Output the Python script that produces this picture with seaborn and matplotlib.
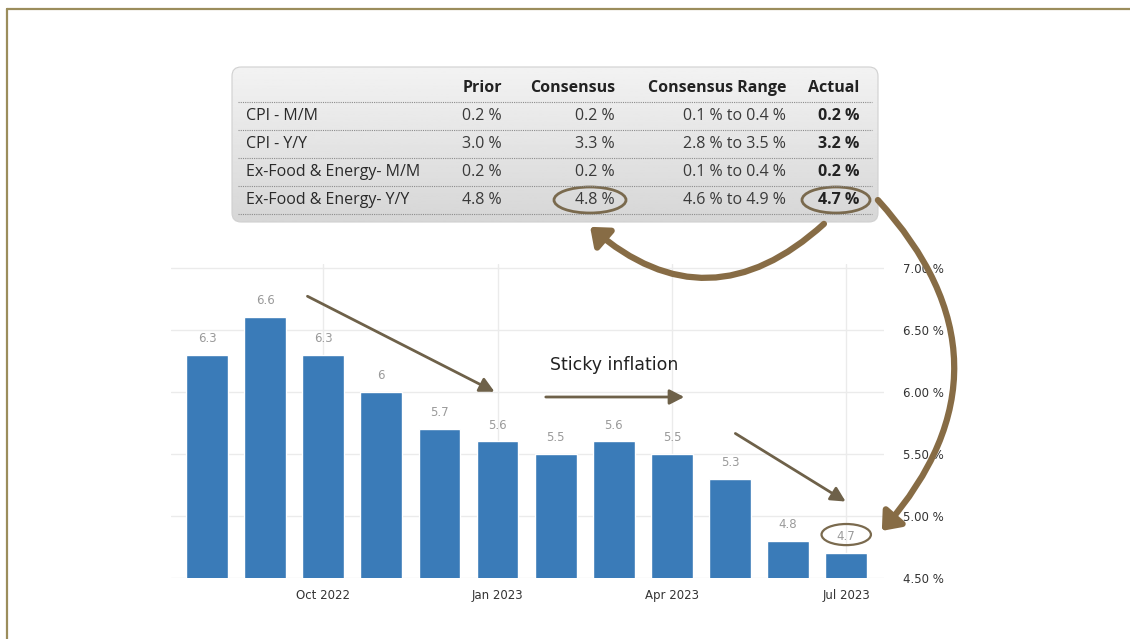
import numpy as np
import pandas as pd
import seaborn as sns
import matplotlib.pyplot as plt
from matplotlib.patches import FancyBboxPatch, FancyArrowPatch, Ellipse

# core CPI y/y, Aug 2022 - Jul 2023
months = ['Aug 2022', 'Sep 2022', 'Oct 2022', 'Nov 2022', 'Dec 2022', 'Jan 2023',
          'Feb 2023', 'Mar 2023', 'Apr 2023', 'May 2023', 'Jun 2023', 'Jul 2023']
core_cpi = [6.3, 6.6, 6.3, 6.0, 5.7, 5.6, 5.5, 5.6, 5.5, 5.3, 4.8, 4.7]
bar_labels = ['6.3', '6.6', '6.3', '6', '5.7', '5.6', '5.5', '5.6', '5.5', '5.3', '4.8', '4.7']
x_tick_months = ['Oct 2022', 'Jan 2023', 'Apr 2023', 'Jul 2023']
y_ticks = [4.5, 5.0, 5.5, 6.0, 6.5, 7.0]

# release table
tbl_header = ['Prior', 'Consensus', 'Consensus Range', 'Actual']
tbl_rows = ['CPI - M/M', 'CPI - Y/Y', 'Ex-Food & Energy- M/M', 'Ex-Food & Energy- Y/Y']
tbl_prior = ['0.2 %', '3.0 %', '0.2 %', '4.8 %']
tbl_consensus = ['0.2 %', '3.3 %', '0.2 %', '4.8 %']
tbl_range = ['0.1 % to 0.4 %', '2.8 % to 3.5 %', '0.1 % to 0.4 %', '4.6 % to 4.9 %']
tbl_actual = ['0.2 %', '3.2 %', '0.2 %', '4.7 %']

df = pd.DataFrame({'month': months, 'value': core_cpi})

sns.set_style('white')
plt.rcParams['font.family'] = ['DejaVu Sans']

W, H = 1130, 639
fig = plt.figure(figsize=(W / 100, H / 100), dpi=100)
fig.patch.set_facecolor('white')

# bar chart
ax = fig.add_axes([171 / W, (H - 578) / H, 713 / W, 314 / H])
sns.barplot(data=df, x='month', y='value', color='#3a7bb8', saturation=1,
            width=0.72, ax=ax, zorder=2)
ax.set_ylim(4.5, 7.03)
ax.set_xlim(-0.62, 11.65)
for i, (v, lab) in enumerate(zip(core_cpi, bar_labels)):
    ax.text(i, v + 0.08, lab, ha='center', va='bottom', fontsize=8.5, color='#9a9a9a')

tick_pos = [months.index(m) for m in x_tick_months]
ax.set_xticks(tick_pos)
ax.set_xticklabels(x_tick_months, fontsize=8.5, color='#333333')
ax.yaxis.tick_right()
ax.set_yticks(y_ticks)
ax.set_yticklabels([f'{t:.2f} %' for t in y_ticks], fontsize=8.5, color='#333333')
ax.tick_params(axis='x', length=0, pad=8)
ax.tick_params(axis='y', length=0, pad=14)
ax.grid(True, color='#ebebeb', lw=1, zorder=0)
ax.set_axisbelow(True)
ax.set_xlabel('')
ax.set_ylabel('')
for s in ax.spines.values():
    s.set_visible(False)
# ellipse around last bar label
ax.add_patch(Ellipse((11, core_cpi[-1] + 0.15), 0.85, 0.17, fill=False,
                     ec='#7a6a4e', lw=1.6, zorder=5))

# overlay in pixel coordinates
ov = fig.add_axes([0, 0, 1, 1], zorder=10)
ov.set_xlim(0, W)
ov.set_ylim(H, 0)
ov.axis('off')
ov.patch.set_alpha(0)

# page frame
ov.plot([7, W], [9, 9], color='#9b8d5c', lw=1.6)
ov.plot([7, 7], [9, H], color='#9b8d5c', lw=1.6)

# table box with gradient
box = FancyBboxPatch((232, 67), 646, 155, boxstyle='round,pad=0,rounding_size=9',
                     fc='none', ec='#d0d0d0', lw=0.8)
ov.add_patch(box)
grad = np.linspace(0.95, 0.84, 100).reshape(-1, 1)
im = ov.imshow(grad, extent=(232, 878, 222, 67), cmap='gray', vmin=0, vmax=1,
               aspect='auto', zorder=0)
im.set_clip_path(box)

sep_y = [102, 130, 158, 186, 214]
for y in sep_y:
    ov.plot([238, 872], [y, y], color='#8c8c8c', lw=0.8, ls=(0, (1, 1)))

fs = 11.5
col_right = [502, 615, 786, 859]
for xr, h in zip(col_right, tbl_header):
    ov.text(xr, 88, h, ha='right', va='center', fontsize=fs, fontweight='bold',
            color='#222222', family='Open Sans')
row_y = [116, 144, 172, 200]
for j, y in enumerate(row_y):
    ov.text(246, y, tbl_rows[j], ha='left', va='center', fontsize=fs, color='#2a2a2a',
            family='Open Sans')
    ov.text(col_right[0], y, tbl_prior[j], ha='right', va='center', fontsize=fs,
            color='#3a3a3a', family='Open Sans')
    ov.text(col_right[1], y, tbl_consensus[j], ha='right', va='center', fontsize=fs,
            color='#3a3a3a', family='Open Sans')
    ov.text(col_right[2], y, tbl_range[j], ha='right', va='center', fontsize=fs,
            color='#3a3a3a', family='Open Sans')
    ov.text(col_right[3], y, tbl_actual[j], ha='right', va='center', fontsize=fs,
            fontweight='bold', color='#222222', family='Open Sans')

# circles in table
ov.add_patch(Ellipse((590, 200), 72, 26, fill=False, ec='#7a6a4e', lw=2))
ov.add_patch(Ellipse((836, 200), 68, 26, fill=False, ec='#7a6a4e', lw=2))

# curved arrows
brown = '#876c45'
ov.add_patch(FancyArrowPatch((826, 222), (588, 225), connectionstyle='arc3,rad=-0.45',
                             arrowstyle='-|>,head_length=4,head_width=3.2', color=brown,
                             lw=4.5, mutation_scale=2.5))
ov.add_patch(FancyArrowPatch((876, 198), (880, 533), connectionstyle='arc3,rad=-0.45',
                             arrowstyle='-|>,head_length=4,head_width=3.2', color=brown,
                             lw=4.5, mutation_scale=2.5))

# straight arrows
dark = '#6e6149'
for (x0, y0), (x1, y1) in [((305, 295), (497, 393)), ((543, 397), (687, 397)),
                           ((733, 432), (848, 503))]:
    ov.add_patch(FancyArrowPatch((x0, y0), (x1, y1),
                                 arrowstyle='-|>,head_length=3.5,head_width=1.8',
                                 color=dark, lw=2, mutation_scale=2.5))
ov.text(614, 365, 'Sticky inflation', ha='center', va='center', fontsize=12.5,
        color='#222222')

fig.savefig('out.png', dpi=100)
